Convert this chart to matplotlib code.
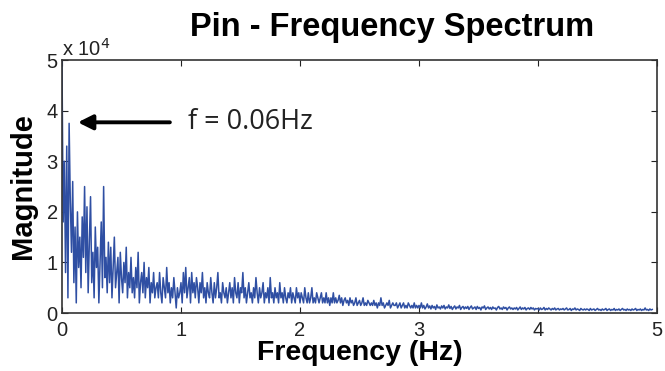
import numpy as np
import matplotlib.pyplot as plt
from matplotlib.ticker import FuncFormatter

# magnitude in thousands, one value every 0.01 Hz from 0 to 5 Hz
mag_k = [
    50, 18, 30, 8, 33, 3, 37.5, 22, 12, 26, 6, 17, 2, 20, 9, 15, 5, 19, 11, 25,
    8, 21, 4, 14, 23, 6, 12, 3, 17, 9, 13, 2, 10, 18, 5, 25, 7, 11, 4, 14,
    6, 13, 3, 9, 15, 5, 8, 11, 2, 12, 7, 4, 10, 6, 13, 3, 8, 5, 11, 4,
    7, 3, 9, 5, 12, 2, 6, 8, 4, 10, 3, 7, 5, 9, 2, 6, 4, 8, 3, 5,
    6, 3, 8, 4, 2, 7, 5, 3, 9, 4, 6, 2, 5, 3, 7, 4, 1, 5, 3, 4,
    6, 2, 8, 4, 9, 3, 5, 7, 2, 8, 4, 6, 3, 7, 5, 2, 6, 4, 8, 3,
    5, 2, 6, 4, 3, 7, 4, 2, 6, 3, 5, 8, 3, 4, 2, 6, 4, 3, 5, 2,
    4, 6, 3, 5, 2, 7, 4, 3, 6, 2, 5, 4, 8, 3, 5, 2, 4, 6, 3, 4,
    2, 5, 3, 7, 4, 2, 5, 3, 4, 6, 2, 4, 3, 5, 2, 7, 3, 4, 2, 5,
    3, 4, 2, 6, 3, 4, 2, 5, 3, 2, 4, 3, 5, 2, 4, 3, 2, 5, 3, 4,
    2, 4, 3, 2, 5, 3, 2, 4, 2, 3, 5, 2, 3, 2, 4, 3, 2, 3, 4, 2,
    3, 2, 4, 2, 3, 1.5, 3, 2, 4, 2, 3, 2, 2.5, 3.5, 2, 3, 1.5, 2.5, 3, 2,
    2.5, 1.5, 3, 2, 2.5, 1.5, 2, 3, 1.5, 2, 2.5, 1.5, 2, 3, 1.5, 2, 1.5, 2.5, 2, 1.5,
    2, 1.5, 2.5, 1.5, 2, 1, 2, 1.5, 3, 1.5, 2, 1, 1.5, 2, 1.5, 2.5, 1, 1.5, 2, 1.5,
    1.5, 2, 1, 1.5, 2, 1, 1.5, 2, 1, 1.5, 1, 2, 1.5, 1, 1.5, 1, 2, 1, 1.5, 1,
    1.5, 1, 2, 1, 1.5, 0.8, 1.2, 1.8, 1, 1.4, 0.8, 1.5, 1, 1.3, 0.7, 1.6, 1, 1.2, 0.8, 1.4,
    1, 1.5, 0.8, 1.2, 1, 1.6, 0.9, 1.3, 0.7, 1.1, 1.4, 0.8, 1.2, 1, 1.5, 0.7, 1.1, 1.3, 0.8, 1.2,
    0.9, 1.3, 0.7, 1.1, 1.4, 0.8, 1, 1.2, 0.7, 1.3, 0.9, 1.1, 0.6, 1.2, 1, 1.4, 0.7, 1, 1.2, 0.8,
    1.1, 0.7, 1.2, 0.9, 1, 0.6, 1.1, 1.3, 0.8, 1, 0.7, 1.2, 0.9, 1.1, 0.6, 1, 1.2, 0.8, 1, 0.7,
    1, 0.8, 1.1, 0.6, 0.9, 1.2, 0.7, 1, 0.8, 1.1, 0.6, 0.9, 1, 0.7, 1.1, 0.8, 1, 0.6, 0.9, 0.8,
    0.9, 0.6, 1, 0.7, 0.8, 1.1, 0.6, 0.9, 0.7, 1, 0.8, 0.6, 0.9, 0.7, 1, 0.6, 0.8, 0.9, 0.6, 0.8,
    0.7, 0.9, 0.6, 0.8, 1, 0.6, 0.7, 0.9, 0.5, 0.8, 0.7, 1, 0.6, 0.8, 0.7, 0.5, 0.9, 0.7, 0.6, 0.8,
    0.6, 0.8, 0.7, 0.5, 0.9, 0.6, 0.7, 0.8, 0.5, 0.7, 0.9, 0.6, 0.7, 0.5, 0.8, 0.6, 0.7, 0.9, 0.5, 0.7,
    0.8, 0.5, 0.7, 0.6, 0.9, 0.5, 0.7, 0.6, 0.8, 0.5, 0.7, 0.9, 0.6, 0.7, 0.5, 0.8,
    0.6, 0.7, 0.5, 0.8, 0.6, 0.7, 0.9, 0.5, 0.7, 0.6, 0.8, 0.5, 0.7, 0.6, 1, 0.6, 0.7, 0.5, 0.8, 0.6,
    0.7,
]
df = 0.01
freq = np.arange(len(mag_k)) * df
mag = np.array(mag_k) * 1e3

xticks = [0, 1, 2, 3, 4, 5]
yticks = [0, 1e4, 2e4, 3e4, 4e4, 5e4]

fig = plt.figure(figsize=(6.65, 3.71), dpi=100)
ax = fig.add_axes([0.0932, 0.1563, 0.8948, 0.6817])
ax.plot(freq, mag, color='#2f4fa3', lw=1.1)

ax.set_xlim(0, 5)
ax.set_ylim(0, 5e4)
ax.set_xticks(xticks)
ax.set_yticks(yticks)
ax.yaxis.set_major_formatter(FuncFormatter(lambda v, p: '%d' % round(v / 1e4)))
ax.tick_params(direction='in', length=4, top=True, right=True, labelsize=14.5,
               colors='#222222')
ax.tick_params(axis='x', pad=6)
ax.tick_params(axis='y', pad=3)
for lbl in ax.get_xticklabels() + ax.get_yticklabels():
    lbl.set_family('Liberation Sans')
for s in ax.spines.values():
    s.set_color('#333333')
    s.set_linewidth(1.2)

ax.text(0, 1.0, 'x 10$^{4}$', transform=ax.transAxes, fontsize=14.5,
        color='#222222', ha='left', va='bottom', family='Liberation Sans')

ax.set_title('Pin - Frequency Spectrum', fontsize=23.5, fontweight='bold',
             family='Liberation Sans', x=0.555, pad=17)
ax.set_xlabel('Frequency (Hz)', fontsize=20.5, fontweight='bold',
              family='Liberation Sans', labelpad=0)
ax.set_ylabel('Magnitude', fontsize=21, fontweight='bold',
              family='Liberation Sans', labelpad=7)

ax.annotate('', xy=(0.11, 3.77e4), xytext=(0.93, 3.77e4),
            arrowprops=dict(arrowstyle='-|>', lw=2.8, mutation_scale=22, color='black'))
ax.text(1.06, 3.77e4, 'f = 0.06Hz', fontsize=19.5, family='Open Sans',
        color='#222222', va='center', ha='left')

fig.savefig('out.png', dpi=100)
